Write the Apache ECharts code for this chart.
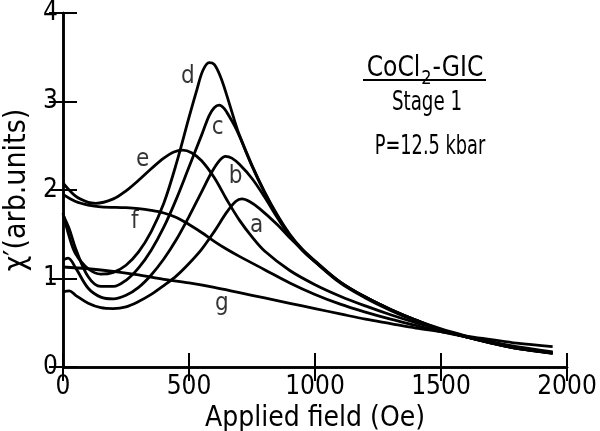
<!DOCTYPE html>
<html>
<head>
<meta charset="utf-8">
<script src="https://cdn.jsdelivr.net/npm/echarts@6/dist/echarts.min.js"></script>
<style>
  html, body { margin: 0; padding: 0; background: #fff; }
  #chart { width: 600px; height: 431px; }
</style>
</head>
<body>
<div id="chart"></div>
<script>
// χ' vs applied field, CoCl2-GIC stage 1, P = 12.5 kbar

// [field (Oe), χ' (arb. units)]
const curveA = [[0,0.85],[25,0.86],[50,0.81],[100,0.72],[150,0.67],[200,0.66],[250,0.68],[300,0.74],[350,0.82],[400,0.92],[450,1.03],[500,1.17],[550,1.33],[600,1.53],[650,1.75],[685,1.87],[710,1.90],[740,1.87],[780,1.79],[850,1.61],[900,1.46],[1000,1.19],[1100,0.95],[1200,0.78],[1300,0.64],[1400,0.52],[1500,0.42],[1600,0.34],[1700,0.27],[1800,0.21],[1943,0.155]];
const curveB = [[0,1.21],[20,1.23],[50,1.12],[100,0.89],[150,0.79],[200,0.77],[250,0.81],[300,0.90],[350,1.04],[400,1.22],[450,1.44],[500,1.70],[550,1.98],[590,2.20],[620,2.33],[645,2.38],[670,2.36],[700,2.29],[750,2.13],[800,1.92],[850,1.69],[900,1.48],[950,1.32],[1000,1.19],[1100,0.96],[1200,0.79],[1300,0.65],[1400,0.53],[1500,0.42],[1600,0.34],[1700,0.27],[1800,0.21],[1943,0.155]];
const curveC = [[0,1.72],[25,1.56],[50,1.34],[100,1.02],[150,0.91],[200,0.91],[250,0.98],[300,1.12],[350,1.32],[400,1.58],[450,1.90],[500,2.26],[550,2.62],[580,2.84],[600,2.93],[620,2.96],[640,2.92],[660,2.83],[680,2.73],[700,2.61],[750,2.27],[800,1.97],[850,1.71],[900,1.49],[950,1.32],[1000,1.19],[1100,0.96],[1200,0.79],[1300,0.65],[1400,0.53],[1500,0.42],[1600,0.34],[1700,0.27],[1800,0.21],[1943,0.16]];
const curveD = [[0,1.74],[25,1.47],[50,1.28],[100,1.11],[150,1.05],[200,1.07],[250,1.15],[300,1.30],[350,1.53],[400,1.85],[450,2.30],[500,2.82],[530,3.12],[555,3.35],[580,3.44],[600,3.42],[625,3.28],[650,3.07],[680,2.79],[700,2.62],[750,2.28],[800,1.98],[850,1.72],[900,1.50],[950,1.33],[1000,1.20],[1100,0.96],[1200,0.79],[1300,0.65],[1400,0.53],[1500,0.43],[1600,0.35],[1700,0.28],[1800,0.22],[1943,0.16]];
const curveE = [[0,2.08],[50,1.93],[100,1.86],[130,1.85],[200,1.90],[250,1.99],[300,2.11],[350,2.24],[400,2.36],[440,2.43],[475,2.45],[510,2.42],[550,2.33],[600,2.14],[650,1.89],[700,1.66],[750,1.47],[800,1.31],[900,1.09],[1000,0.93],[1100,0.80],[1200,0.69],[1300,0.59],[1400,0.50],[1500,0.42],[1600,0.34],[1700,0.28],[1800,0.22],[1943,0.16]];
const curveF = [[0,1.95],[50,1.87],[100,1.83],[150,1.81],[250,1.80],[300,1.79],[350,1.77],[400,1.74],[450,1.69],[500,1.61],[550,1.52],[600,1.42],[650,1.33],[700,1.25],[800,1.10],[900,0.95],[1000,0.82],[1100,0.71],[1200,0.62],[1300,0.54],[1400,0.47],[1500,0.40],[1600,0.34],[1700,0.28],[1800,0.23],[1943,0.17]];
const curveG = [[0,1.13],[100,1.11],[200,1.08],[300,1.04],[400,0.99],[500,0.95],[600,0.90],[700,0.84],[800,0.78],[900,0.72],[1000,0.66],[1100,0.60],[1200,0.54],[1300,0.49],[1400,0.44],[1500,0.40],[1600,0.35],[1700,0.31],[1800,0.27],[1943,0.23]];

const curveNames = ['a', 'b', 'c', 'd', 'e', 'f', 'g'];
// where each letter sits, in data coords
const labelSpots = [[768,1.60],[685,2.15],[614,2.70],[495,3.28],[316,2.34],[285,1.64],[630,0.72]];

const FONT = "'DejaVu Sans Condensed', 'Liberation Sans', sans-serif";

const chart = echarts.init(document.getElementById('chart'));

const curves = [curveA, curveB, curveC, curveD, curveE, curveF, curveG];
const lineSeries = curves.map((data, i) => ({
    name: curveNames[i],
    type: 'line',
    data: data,
    smooth: 0.35,
    showSymbol: false,
    silent: true,
    lineStyle: { color: '#000', width: 2.8 }
}));

// letter labels
lineSeries.push({
    type: 'scatter',
    symbolSize: 0,
    silent: true,
    data: labelSpots.map((p, i) => ({ value: p, name: curveNames[i] })),
    label: {
        show: true,
        position: 'inside',
        formatter: '{b}',
        color: '#000',
        textBorderWidth: 0,
        fontSize: 24,
        fontFamily: FONT
    }
});

const tickStyle = { inside: true, length: 14, lineStyle: { color: '#000', width: 2 } };
const lineStyle = { color: '#000', width: 2.5 };
const plainNum = v => String(v);

const option = {
    animation: false,
    backgroundColor: '#fff',
    grid: { left: 63, right: 33, top: 13, bottom: 64, containLabel: false, outerBoundsMode: 'none' },
    xAxis: [{
        type: 'value', min: 0, max: 2000, interval: 500,
        axisLine: { lineStyle: lineStyle },
        axisTick: tickStyle,
        splitLine: { show: false },
        axisLabel: { color: '#000', fontSize: 26, fontFamily: FONT, margin: 7, formatter: plainNum },
        name: 'Applied field (Oe)',
        nameLocation: 'middle',
        nameGap: 32,
        nameTextStyle: { color: '#000', fontSize: 28, fontFamily: FONT }
    }, {
        type: 'value', min: 0, max: 2000, interval: 500, position: 'top',
        axisLine: { lineStyle: lineStyle },
        axisTick: tickStyle,
        axisLabel: { show: false },
        splitLine: { show: false }
    }],
    yAxis: [{
        type: 'value', min: 0, max: 4, interval: 1,
        axisLine: { show: true, lineStyle: lineStyle },
        axisTick: Object.assign({ show: true }, tickStyle),
        splitLine: { show: false },
        axisLabel: { color: '#000', fontSize: 26, fontFamily: FONT, margin: 5, formatter: plainNum },
        name: 'χ′(arb.units)',
        nameLocation: 'middle',
        nameGap: 27,
        nameTextStyle: { color: '#000', fontSize: 30, fontFamily: FONT }
    }, {
        type: 'value', min: 0, max: 4, interval: 1, position: 'right',
        axisLine: { show: true, lineStyle: lineStyle },
        axisTick: Object.assign({ show: true }, tickStyle),
        axisLabel: { show: false },
        splitLine: { show: false }
    }],
    graphic: [
        {
            type: 'text', x: 425, y: 67, scaleX: 0.9,
            style: {
                text: '{m|CoCl}{s|2}{m|-GIC}',
                rich: {
                    m: { font: '29px ' + FONT, fill: '#000', verticalAlign: 'bottom', lineHeight: 32 },
                    s: { font: '20px ' + FONT, fill: '#000', verticalAlign: 'bottom', lineHeight: 32, padding: [0, 1, -6, 1] }
                },
                textAlign: 'center', textVerticalAlign: 'middle'
            }
        },
        { type: 'line', shape: { x1: 363, y1: 80, x2: 486, y2: 80 }, style: { stroke: '#000', lineWidth: 2 } },
        { type: 'text', x: 427, y: 103, scaleX: 0.78, style: { text: 'Stage 1', font: '26px ' + FONT, fill: '#000', textAlign: 'center', textVerticalAlign: 'middle' } },
        { type: 'text', x: 430, y: 147, scaleX: 0.76, style: { text: 'P=12.5 kbar', font: '26px ' + FONT, fill: '#000', textAlign: 'center', textVerticalAlign: 'middle' } }
    ],
    series: lineSeries
};

chart.setOption(option);
</script>
</body>
</html>
